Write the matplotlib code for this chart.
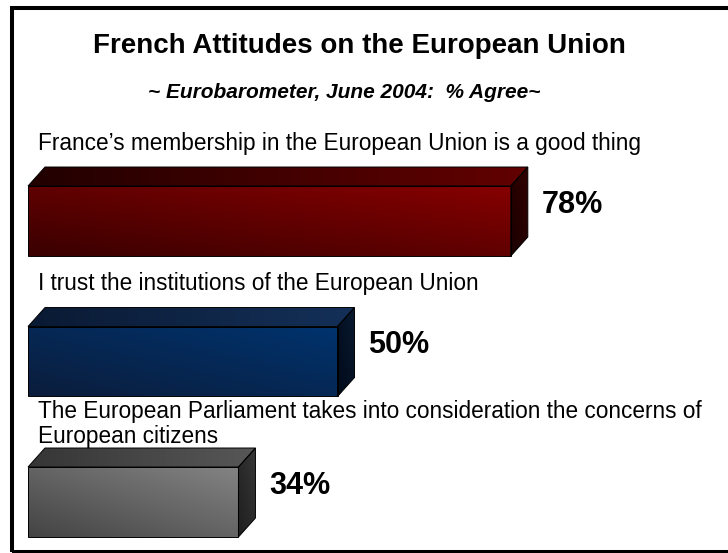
import numpy as np
import matplotlib
matplotlib.use('Agg')
import matplotlib.pyplot as plt
from matplotlib.patches import Polygon, Rectangle
from matplotlib.colors import LinearSegmentedColormap

plt.rcParams['font.family'] = ['Liberation Sans', 'DejaVu Sans']

# data
labels = ["France\u2019s membership in the European Union is a good thing",
          "I trust the institutions of the European Union",
          "The European Parliament takes into consideration the concerns of\nEuropean citizens"]
values = [78, 50, 34]
title = "French Attitudes on the European Union"
subtitle = "~ Eurobarometer, June 2004:  % Agree~"

# colours per bar: front, top, side (dark end, light end)
front_cols = [('#3a0000', '#860000'), ('#0b1d3c', '#00336e'), ('#444444', '#838383')]
top_cols = [('#220000', '#620000'), ('#0a1a34', '#143058'), ('#363636', '#575757')]
side_cols = [('#1a0000', '#330000'), ('#000a1a', '#0a1a30'), ('#1e1e1e', '#363636')]

fig = plt.figure(figsize=(7.28, 5.53), dpi=100)
ax = fig.add_axes([0, 0, 1, 1])
ax.set_axis_off()

# scale: 6.19 px per percent, bars start at x=28px; rows 140.5 px apart, first at 221px
px_per_pct = 6.19
px_per_row = 140.5
ax.set_xlim(-28 / px_per_pct, (728 - 28) / px_per_pct)
ax.set_ylim((553 - 221) / px_per_row, -221 / px_per_row)

h = 0.249             # half bar height
dx = 17 / px_per_pct  # depth
dy = 19 / px_per_row


def shaded(poly_pts, cols, diag=True):
    poly = Polygon(poly_pts, closed=True, facecolor='none', edgecolor='black', lw=0.7, zorder=3)
    ax.add_patch(poly)
    xs = [p[0] for p in poly_pts]
    ys = [p[1] for p in poly_pts]
    n = 64
    xn = np.linspace(0, 1, n)[None, :]
    yn = np.linspace(0, 1, n)[:, None]
    if diag:
        t = (xn + (1 - yn)) / 2
    else:
        t = np.repeat(xn, n, axis=0)
    cmap = LinearSegmentedColormap.from_list('g', list(cols))
    im = ax.imshow(t, cmap=cmap, extent=(min(xs), max(xs), max(ys), min(ys)),
                   origin='upper', aspect='auto', interpolation='bilinear', zorder=2)
    im.set_clip_path(poly)


for i, (lab, v) in enumerate(zip(labels, values)):
    front = [(0, i - h), (v, i - h), (v, i + h), (0, i + h)]
    top = [(0, i - h), (v, i - h), (v + dx, i - h - dy), (dx, i - h - dy)]
    side = [(v, i - h), (v + dx, i - h - dy), (v + dx, i + h - dy), (v, i + h)]
    shaded(front, front_cols[i])
    shaded(top, top_cols[i], diag=False)
    shaded(side, side_cols[i])
    ax.text(10 / px_per_pct, i - 0.555, lab, fontsize=16.3, va='center', ha='left',
            linespacing=1.12)
    ax.text(v + 5, i - 0.115, f"{v}%", fontsize=22, fontweight='bold', va='center', ha='left')

fig.text(359 / 728, 1 - 46 / 553, title, fontsize=20, fontweight='bold', ha='center', va='center')
fig.text(344 / 728, 1 - 92 / 553, subtitle, fontsize=15, fontweight='bold', style='italic',
         ha='center', va='center')

# frame (right side runs off the image)
fig.patches.append(Rectangle((12 / 728, 1 / 553), 740 / 728, 544.5 / 553, transform=fig.transFigure,
                             fill=False, edgecolor='black', lw=2.9))

fig.savefig('out.png', dpi=100)
